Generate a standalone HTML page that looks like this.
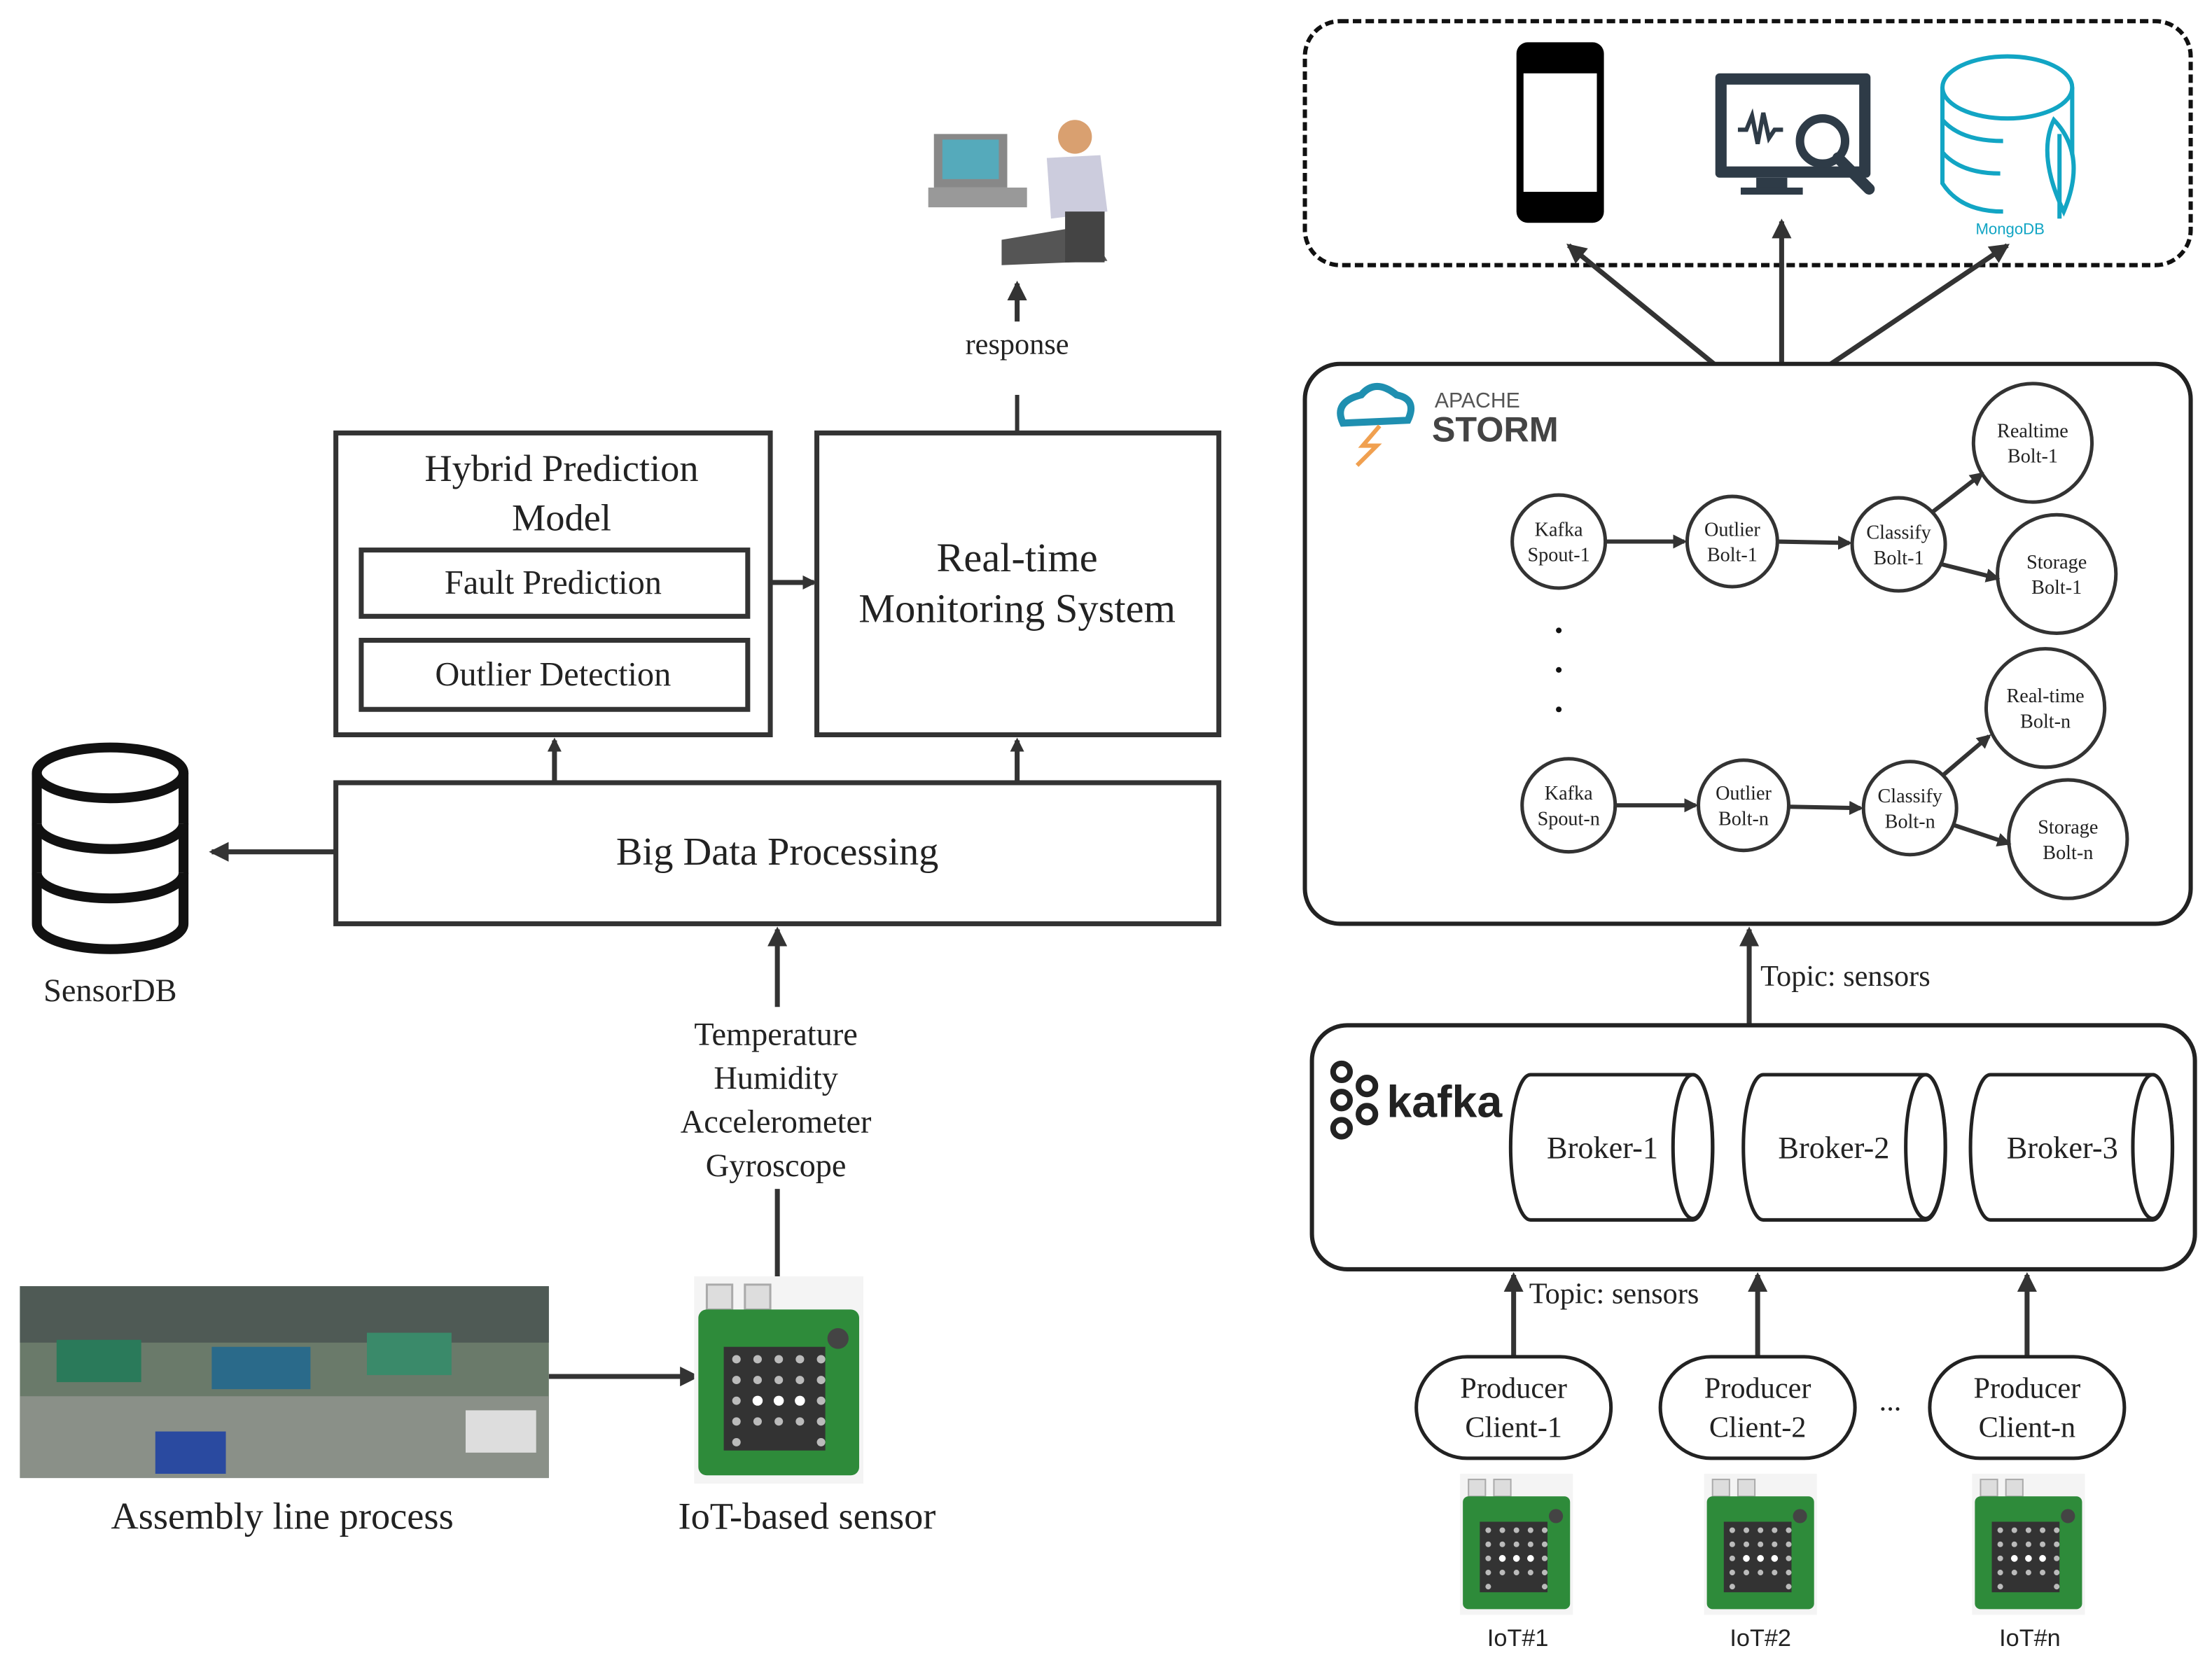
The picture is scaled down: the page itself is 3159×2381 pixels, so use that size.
<!DOCTYPE html>
<html><head><meta charset="utf-8"><style>html,body{margin:0;padding:0;background:#fff}svg{display:block}</style></head>
<body>
<svg width="3159" height="2381" viewBox="0 0 1568 1182" xmlns="http://www.w3.org/2000/svg" font-family="Liberation Serif, serif" fill="none">
<defs>
<marker id="a" markerWidth="10" markerHeight="10" refX="8" refY="5" orient="auto" markerUnits="userSpaceOnUse"><path d="M0,0 L10,5 L0,10 z" fill="#333"/></marker>
<marker id="b" markerWidth="14" markerHeight="14" refX="12" refY="7" orient="auto" markerUnits="userSpaceOnUse"><path d="M0,0 L14,7 L0,14 z" fill="#333"/></marker>
<g id="iot">
<rect x="0" y="0" width="80" height="100" fill="#f4f4f4"/>
<rect x="6" y="4" width="12" height="12" fill="#ddd" stroke="#aaa"/><rect x="24" y="4" width="12" height="12" fill="#ddd" stroke="#aaa"/>
<rect x="2" y="16" width="76" height="80" rx="4" fill="#2e8b3a"/>
<rect x="14" y="34" width="48" height="50" fill="#333"/>
<g fill="#bbb"><circle cx="20" cy="40" r="2"/><circle cx="30" cy="40" r="2"/><circle cx="40" cy="40" r="2"/><circle cx="50" cy="40" r="2"/><circle cx="60" cy="40" r="2"/>
<circle cx="20" cy="50" r="2"/><circle cx="30" cy="50" r="2"/><circle cx="40" cy="50" r="2"/><circle cx="50" cy="50" r="2"/><circle cx="60" cy="50" r="2"/>
<circle cx="20" cy="60" r="2"/><circle cx="60" cy="60" r="2"/><circle cx="20" cy="70" r="2"/><circle cx="30" cy="70" r="2"/><circle cx="40" cy="70" r="2"/><circle cx="50" cy="70" r="2"/><circle cx="60" cy="70" r="2"/><circle cx="20" cy="80" r="2"/><circle cx="60" cy="80" r="2"/></g>
<g fill="#fff"><circle cx="30" cy="60" r="2.4"/><circle cx="40" cy="60" r="2.4"/><circle cx="50" cy="60" r="2.4"/></g>
<circle cx="68" cy="30" r="5" fill="#444"/>
</g>
</defs>

<!-- RIGHT SIDE -->
<rect x="925" y="15" width="628" height="173" rx="25" stroke="#111" stroke-width="3" stroke-dasharray="6,3"/>
<rect x="1075" y="30" width="62" height="128" rx="8" fill="#000"/>
<rect x="1080" y="52" width="52" height="84" fill="#fff"/>
<rect x="1216" y="52" width="110" height="74" rx="3" fill="#2e3b47"/>
<rect x="1224" y="60" width="94" height="58" fill="#fff"/>
<path d="M1232,92 l6,0 l4,-10 l4,20 l4,-22 l4,18 l4,-6 l6,0" stroke="#2e3b47" stroke-width="3"/>
<circle cx="1292" cy="100" r="16" stroke="#2e3b47" stroke-width="6" fill="#fff"/>
<path d="M1303,112 L1325,134" stroke="#2e3b47" stroke-width="8" stroke-linecap="round"/>
<rect x="1245" y="126" width="22" height="8" fill="#2e3b47"/><rect x="1234" y="133" width="44" height="5" fill="#2e3b47"/>
<g stroke="#12a5c4" stroke-width="3">
<ellipse cx="1423" cy="62" rx="46" ry="22"/>
<path d="M1377,62 L1377,130 Q1390,150 1420,150"/><path d="M1469,62 L1469,110"/>
<path d="M1377,85 Q1390,100 1420,100"/><path d="M1377,108 Q1390,123 1418,123"/>
<path d="M1456,85 Q1480,110 1463,150 Q1444,110 1456,85 Z"/><path d="M1460,95 L1460,155"/>
</g>
<text x="1425" y="166" font-family="Liberation Sans, sans-serif" font-size="11" fill="#12a5c4" text-anchor="middle">MongoDB</text>
<g stroke="#333" stroke-width="3.5">
<line x1="1215" y1="258" x2="1112" y2="174" marker-end="url(#b)"/>
<line x1="1263" y1="258" x2="1263" y2="157" marker-end="url(#b)"/>
<line x1="1298" y1="258" x2="1423" y2="174" marker-end="url(#b)"/>
</g>

<rect x="925" y="258" width="628" height="397" rx="25" stroke="#222" stroke-width="3"/>
<path d="M952,300 Q945,285 965,280 Q975,268 990,280 Q1005,283 998,298 Z" stroke="#1f8fb0" stroke-width="5" fill="none"/>
<path d="M978,302 L966,316 L976,316 L962,330" stroke="#f0a050" stroke-width="3"/>
<text x="1017" y="289" font-family="Liberation Sans, sans-serif" font-size="15" fill="#555">APACHE</text>
<text x="1015" y="313" font-family="Liberation Sans, sans-serif" font-size="25" font-weight="bold" fill="#444">STORM</text>

<g stroke="#333" stroke-width="2.5" fill="#fff">
<circle cx="1105" cy="384" r="33"/><circle cx="1228" cy="384" r="32"/><circle cx="1346" cy="386" r="33"/>
<circle cx="1441" cy="314" r="42"/><circle cx="1458" cy="407" r="42"/>
<circle cx="1450" cy="502" r="42"/><circle cx="1112" cy="571" r="33"/><circle cx="1236" cy="571" r="32"/>
<circle cx="1354" cy="573" r="33"/><circle cx="1466" cy="595" r="42"/>
</g>
<g stroke="#333" stroke-width="3">
<line x1="1138" y1="384" x2="1194" y2="384" marker-end="url(#a)"/>
<line x1="1260" y1="384" x2="1311" y2="385" marker-end="url(#a)"/>
<line x1="1370" y1="363" x2="1405" y2="336" marker-end="url(#a)"/>
<line x1="1376" y1="400" x2="1416" y2="410" marker-end="url(#a)"/>
<line x1="1145" y1="571" x2="1202" y2="571" marker-end="url(#a)"/>
<line x1="1268" y1="572" x2="1319" y2="573" marker-end="url(#a)"/>
<line x1="1377" y1="550" x2="1410" y2="522" marker-end="url(#a)"/>
<line x1="1385" y1="585" x2="1424" y2="598" marker-end="url(#a)"/>
</g>
<g fill="#111"><circle cx="1105" cy="447" r="2"/><circle cx="1105" cy="475" r="2"/><circle cx="1105" cy="503" r="2"/></g>
<g font-size="14" fill="#222" text-anchor="middle">
<text x="1105" y="380">Kafka</text><text x="1105" y="398">Spout-1</text>
<text x="1228" y="380">Outlier</text><text x="1228" y="398">Bolt-1</text>
<text x="1346" y="382">Classify</text><text x="1346" y="400">Bolt-1</text>
<text x="1441" y="310">Realtime</text><text x="1441" y="328">Bolt-1</text>
<text x="1458" y="403">Storage</text><text x="1458" y="421">Bolt-1</text>
<text x="1450" y="498">Real-time</text><text x="1450" y="516">Bolt-n</text>
<text x="1112" y="567">Kafka</text><text x="1112" y="585">Spout-n</text>
<text x="1236" y="567">Outlier</text><text x="1236" y="585">Bolt-n</text>
<text x="1354" y="569">Classify</text><text x="1354" y="587">Bolt-n</text>
<text x="1466" y="591">Storage</text><text x="1466" y="609">Bolt-n</text>
</g>

<line x1="1240" y1="727" x2="1240" y2="659" stroke="#333" stroke-width="3.5" marker-end="url(#b)"/>
<text x="1248" y="699" font-size="21" fill="#222">Topic: sensors</text>

<rect x="930" y="727" width="626" height="173" rx="25" stroke="#222" stroke-width="3"/>
<g stroke="#222" stroke-width="4"><circle cx="951" cy="760" r="6"/><circle cx="951" cy="780" r="6"/><circle cx="951" cy="800" r="6"/><circle cx="969" cy="770" r="6"/><circle cx="969" cy="790" r="6"/></g>
<text x="983" y="792" font-family="Liberation Sans, sans-serif" font-size="32" font-weight="bold" fill="#222">kafka</text>
<g stroke="#222" stroke-width="2.5" fill="#fff">
<path d="M1085,762 L1200,762 A14,51 0 0 1 1200,865 L1085,865 A14,51 0 0 1 1085,762 Z"/><ellipse cx="1200" cy="813" rx="14" ry="51"/>
<path d="M1250,762 L1365,762 A14,51 0 0 1 1365,865 L1250,865 A14,51 0 0 1 1250,762 Z"/><ellipse cx="1365" cy="813" rx="14" ry="51"/>
<path d="M1411,762 L1526,762 A14,51 0 0 1 1526,865 L1411,865 A14,51 0 0 1 1411,762 Z"/><ellipse cx="1526" cy="813" rx="14" ry="51"/>
</g>
<g font-size="22" fill="#222" text-anchor="middle">
<text x="1136" y="821">Broker-1</text><text x="1300" y="821">Broker-2</text><text x="1462" y="821">Broker-3</text>
</g>

<g stroke="#333" stroke-width="3.5">
<line x1="1073" y1="962" x2="1073" y2="904" marker-end="url(#b)"/>
<line x1="1246" y1="962" x2="1246" y2="904" marker-end="url(#b)"/>
<line x1="1437" y1="962" x2="1437" y2="904" marker-end="url(#b)"/>
</g>
<text x="1084" y="924" font-size="21" fill="#222">Topic: sensors</text>
<g stroke="#222" stroke-width="2.5" fill="#fff">
<rect x="1004" y="962" width="138" height="72" rx="36"/><rect x="1177" y="962" width="138" height="72" rx="36"/><rect x="1368" y="962" width="138" height="72" rx="36"/>
</g>
<g font-size="21" fill="#222" text-anchor="middle">
<text x="1073" y="991">Producer</text><text x="1073" y="1019">Client-1</text>
<text x="1246" y="991">Producer</text><text x="1246" y="1019">Client-2</text>
<text x="1437" y="991">Producer</text><text x="1437" y="1019">Client-n</text>
<text x="1340" y="1000">...</text>
</g>
<use href="#iot" x="1035" y="1045"/><use href="#iot" x="1208" y="1045"/><use href="#iot" x="1398" y="1045"/>
<g font-family="Liberation Sans, sans-serif" font-size="17" fill="#222" text-anchor="middle">
<text x="1076" y="1167">IoT#1</text><text x="1248" y="1167">IoT#2</text><text x="1439" y="1167">IoT#n</text>
</g>

<!-- LEFT SIDE -->
<g>
<rect x="662" y="95" width="52" height="38" fill="#888"/><rect x="668" y="99" width="40" height="28" fill="#5ab"/>
<rect x="658" y="133" width="70" height="14" fill="#999"/>
<circle cx="762" cy="97" r="12" fill="#d9a070"/>
<path d="M742,112 L780,110 L785,150 L745,155 Z" fill="#ccd"/>
<path d="M710,170 L770,160 L785,185 L710,188 Z" fill="#555"/>
<rect x="755" y="150" width="28" height="36" fill="#444"/>
</g>
<line x1="721" y1="228" x2="721" y2="201" stroke="#333" stroke-width="3.5" marker-end="url(#b)"/>
<text x="721" y="251" font-size="21" fill="#222" text-anchor="middle">response</text>
<line x1="721" y1="307" x2="721" y2="280" stroke="#333" stroke-width="3"/>

<g stroke="#333" stroke-width="3.5" fill="#fff">
<rect x="238" y="307" width="308" height="214"/>
<rect x="256" y="390" width="274" height="47"/>
<rect x="256" y="454" width="274" height="49"/>
<rect x="579" y="307" width="285" height="214"/>
<rect x="238" y="555" width="626" height="100"/>
</g>
<g fill="#222" text-anchor="middle">
<text x="398" y="341" font-size="27">Hybrid Prediction</text><text x="398" y="376" font-size="27">Model</text>
<text x="392" y="421" font-size="24">Fault Prediction</text><text x="392" y="486" font-size="24">Outlier Detection</text>
<text x="721" y="405" font-size="29">Real-time</text><text x="721" y="441" font-size="29">Monitoring System</text>
<text x="551" y="613" font-size="28">Big Data Processing</text>
</g>
<g stroke="#333" stroke-width="3.5">
<line x1="546" y1="413" x2="577" y2="413" marker-end="url(#a)"/>
<line x1="393" y1="555" x2="393" y2="525" marker-end="url(#a)"/>
<line x1="721" y1="555" x2="721" y2="525" marker-end="url(#a)"/>
<line x1="238" y1="604" x2="150" y2="604" marker-end="url(#b)"/>
<line x1="551" y1="714" x2="551" y2="659" marker-end="url(#b)"/>
<line x1="551" y1="843" x2="551" y2="905"/>
<line x1="389" y1="976" x2="494" y2="976" marker-end="url(#b)"/>
</g>
<g stroke="#111" stroke-width="7" fill="#fff">
<path d="M26,548 L26,655 A52,18 0 0 0 130,655 L130,548"/>
<ellipse cx="78" cy="548" rx="52" ry="18"/>
<path d="M26,584 A52,18 0 0 0 130,584"/><path d="M26,619 A52,18 0 0 0 130,619"/>
</g>
<text x="78" y="710" font-size="23" fill="#222" text-anchor="middle">SensorDB</text>
<g font-size="23" fill="#222" text-anchor="middle">
<text x="550" y="741">Temperature</text><text x="550" y="772">Humidity</text><text x="550" y="803">Accelerometer</text><text x="550" y="834">Gyroscope</text>
</g>
<rect x="14" y="912" width="375" height="136" fill="#6a7a6a"/>
<rect x="14" y="912" width="375" height="40" fill="#4f5a55"/>
<rect x="14" y="990" width="375" height="58" fill="#8a9088"/>
<rect x="40" y="950" width="60" height="30" fill="#2a7a5a"/><rect x="150" y="955" width="70" height="30" fill="#2a6a8a"/><rect x="260" y="945" width="60" height="30" fill="#3a8a6a"/>
<rect x="110" y="1015" width="50" height="30" fill="#2a4aa0"/><rect x="330" y="1000" width="50" height="30" fill="#ddd"/>
<text x="200" y="1084" font-size="27" fill="#222" text-anchor="middle">Assembly line process</text>
<g transform="translate(492,905) scale(1.5,1.47)"><use href="#iot"/></g>
<text x="572" y="1084" font-size="27" fill="#222" text-anchor="middle">IoT-based sensor</text>
</svg>
</body></html>
